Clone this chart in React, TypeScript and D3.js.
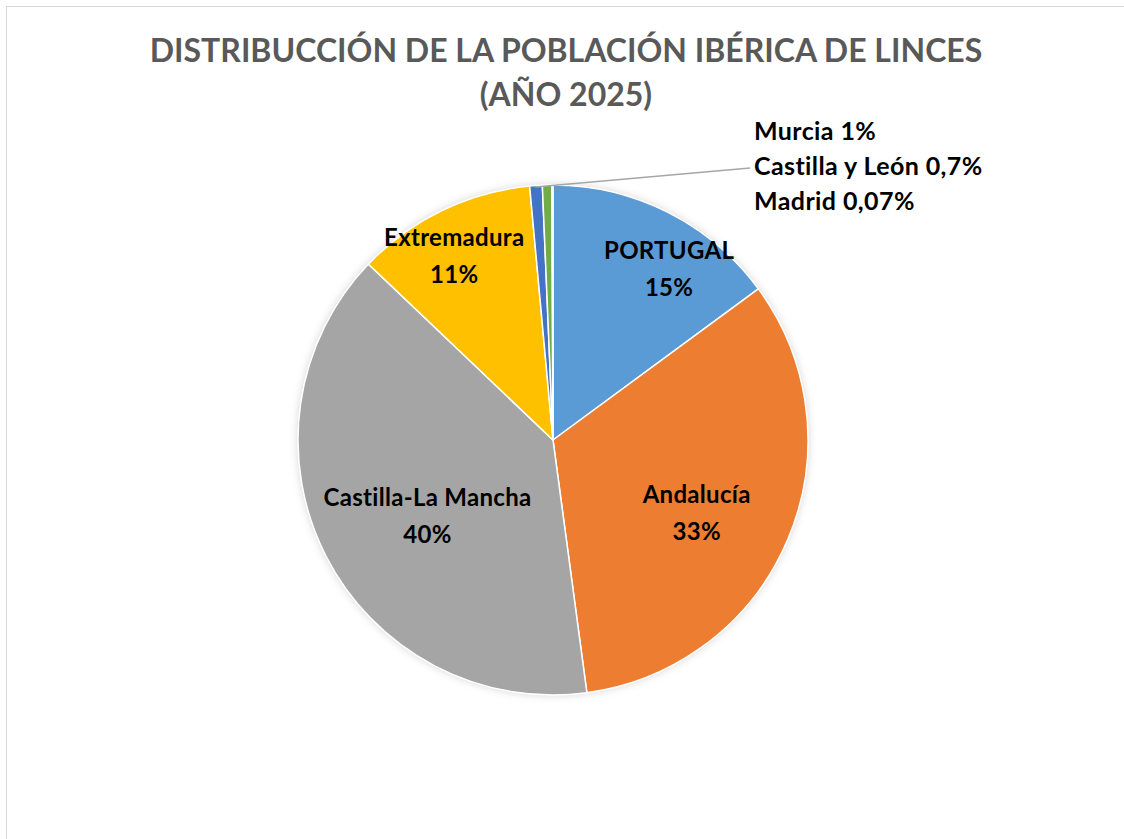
import React from "react";
import * as d3 from "d3";

const categories = ["PORTUGAL", "Andalucía", "Castilla-La Mancha", "Extremadura", "Murcia", "Castilla y León", "Madrid"];
const values = [15, 33.2, 39.5, 11.5, 0.8, 0.6, 0.07];
const percentLabels = ["15%", "33%", "40%", "11%", "1%", "0,7%", "0,07%"];
const colors = ["#5B9BD5", "#ED7D31", "#A5A5A5", "#FFC000", "#4472C4", "#70AD47", "#255E91"];

// layout for the inside labels: [radius, angle in degrees from 12 o'clock]
const insideLabelPos: Record<number, [number, number]> = {
  0: [205, 34.5],
  1: [162, 117.5],
  2: [148, 238],
  3: [207, 331.5],
};

const W = 1124, H = 839;
const cx = 553, cy = 440, R = 255;
const FONT = "Lato, 'Open Sans', sans-serif";

export default function App() {
  const pie = d3.pie<number>().sort(null).value((d) => d);
  const arcs = pie(values);
  const arc = d3.arc<d3.PieArcDatum<number>>().innerRadius(0).outerRadius(R);

  const small = [4, 5, 6];
  const smallLabelY = [140, 175, 210];

  return (
    <svg width={W} height={H} style={{ position: "absolute", left: 0, top: 0, background: "#fff" }}>
      <defs>
        <filter id="sh" x="-20%" y="-20%" width="140%" height="140%">
          <feDropShadow dx="0" dy="0" stdDeviation="4" floodColor="#000" floodOpacity="0.18" />
        </filter>
      </defs>
      <rect x={6.5} y={6.5} width={W + 10} height={H + 10} fill="#fff" stroke="#D9D9D9" strokeWidth={1} />
      <text x={566} y={62} textAnchor="middle" fontFamily={FONT} fontWeight={700} fontSize={32} fill="#595959">
        DISTRIBUCCIÓN DE LA POBLACIÓN IBÉRICA DE LINCES
      </text>
      <text x={566} y={106} textAnchor="middle" fontFamily={FONT} fontWeight={700} fontSize={32} fill="#595959">
        (AÑO 2025)
      </text>
      <g transform={`translate(${cx},${cy})`}>
        <circle r={R} fill="#fff" filter="url(#sh)" />
        {arcs.map((a, i) => (
          <path key={i} d={arc(a) || ""} fill={colors[i]} stroke="#fff" strokeWidth={1.5} />
        ))}
        {Object.keys(insideLabelPos).map((k) => {
          const i = +k;
          const [r, ang] = insideLabelPos[i];
          const t = (ang * Math.PI) / 180;
          const x = r * Math.sin(t);
          const y = -r * Math.cos(t);
          return (
            <text key={i} x={x} textAnchor="middle" fontFamily={FONT} fontWeight={700} fontSize={24} letterSpacing={0.3} fill="#000">
              <tspan x={x} y={y - 12}>{categories[i]}</tspan>
              <tspan x={x} y={y + 25}>{percentLabels[i]}</tspan>
            </text>
          );
        })}
      </g>
      {(() => {
        const a = arcs[5];
        const mid = (a.startAngle + a.endAngle) / 2;
        const x0 = cx + (R - 2) * Math.sin(mid);
        const y0 = cy - (R - 2) * Math.cos(mid);
        return <line x1={x0 - 12} y1={y0} x2={750} y2={168} stroke="#A6A6A6" strokeWidth={1.5} />;
      })()}
      {small.map((i, j) => (
        <text key={i} x={754} y={smallLabelY[j]} fontFamily={FONT} fontWeight={700} fontSize={25} letterSpacing={0.4} fill="#000">
          {categories[i]} {percentLabels[i]}
        </text>
      ))}
    </svg>
  );
}
